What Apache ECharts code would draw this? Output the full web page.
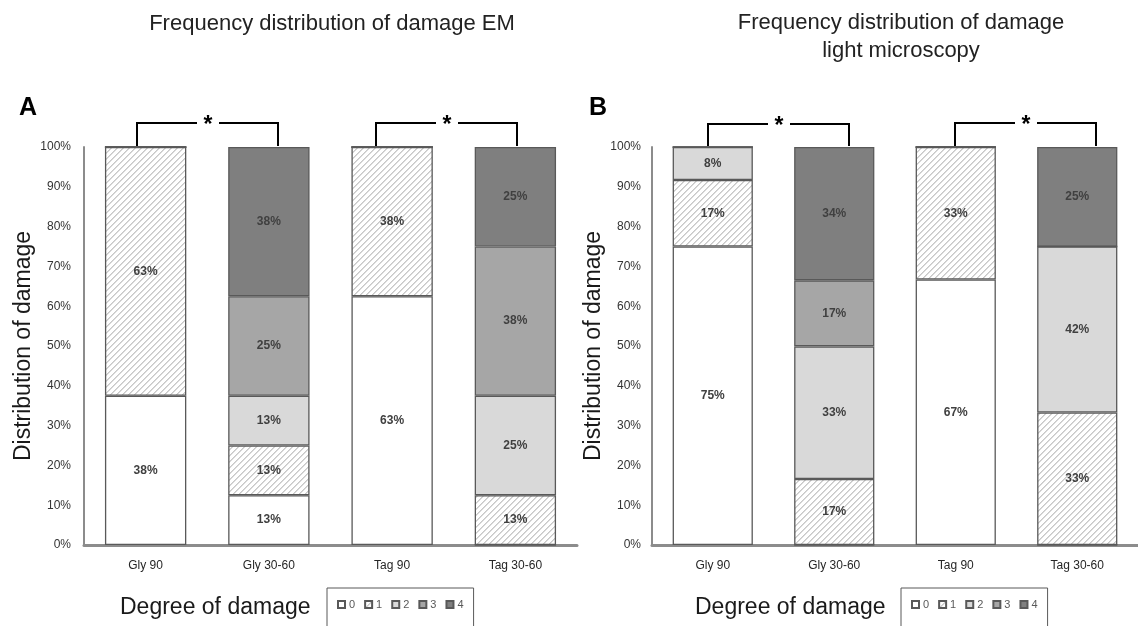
<!DOCTYPE html>
<html>
<head>
<meta charset="utf-8">
<script src="https://cdn.jsdelivr.net/npm/echarts@6/dist/echarts.min.js"></script>
<style>html,body{margin:0;padding:0;background:#fff}#c{width:1138px;height:626px}</style>
</head>
<body>
<div id="c"></div>
<script>
const categories = ['Gly 90', 'Gly 30-60', 'Tag 90', 'Tag 30-60'];
const degrees = ['0', '1', '2', '3', '4'];
const yTicks = [0, 10, 20, 30, 40, 50, 60, 70, 80, 90, 100];
// Panel A: EM (percent)
const emD0 = [37.5, 12.5, 62.5, 0];
const emD1 = [62.5, 12.5, 37.5, 12.5];
const emD2 = [0, 12.5, 0, 25];
const emD3 = [0, 25, 0, 37.5];
const emD4 = [0, 37.5, 0, 25];
// Panel B: light microscopy (percent)
const lmD0 = [75, 0, 66.7, 0];
const lmD1 = [16.7, 16.6, 33.3, 33.3];
const lmD2 = [8.3, 33.3, 0, 41.7];
const lmD3 = [0, 16.6, 0, 0];
const lmD4 = [0, 33.5, 0, 25];

function hatch() {
  const s = 6, c = document.createElement('canvas');
  c.width = s; c.height = s;
  const ctx = c.getContext('2d');
  const img = ctx.createImageData(s, s);
  for (let y = 0; y < s; y++) for (let x = 0; x < s; x++) {
    const k = (x + y) % s;
    const v = k === 0 ? 200 : (k === 1 ? 218 : 255);
    const i = (y * s + x) * 4;
    img.data[i] = v; img.data[i + 1] = v; img.data[i + 2] = v; img.data[i + 3] = 255;
  }
  ctx.putImageData(img, 0, 0);
  return c;
}
const colors = ['#ffffff', { image: hatch(), repeat: 'repeat' }, '#d9d9d9', '#a6a6a6', '#7f7f7f'];
const FONT = '"Liberation Sans", Arial, sans-serif';

function mkSeries(sets, gi) {
  return sets.map((d, i) => ({
    name: degrees[i], type: 'bar', stack: 's' + gi,
    xAxisIndex: gi, yAxisIndex: gi, data: d, barWidth: '66%',
    itemStyle: { color: colors[i], borderColor: '#595959', borderWidth: 1.3 },
    label: {
      show: true, position: 'inside', fontFamily: FONT, fontWeight: 'bold', fontSize: 12, color: '#404040',
      formatter: p => p.value > 0 ? Math.round(p.value) + '%' : ''
    },
    emphasis: { disabled: true }
  }));
}
function xAx(gi) {
  return { type: 'category', gridIndex: gi, data: categories,
    axisTick: { show: false }, axisLine: { lineStyle: { color: '#8c8c8c', width: 3 } },
    axisLabel: { fontFamily: FONT, fontSize: 12, color: '#262626', margin: 15 } };
}
function yAx(gi, gap, margin) {
  return { type: 'value', gridIndex: gi, min: yTicks[0], max: yTicks[yTicks.length - 1], interval: 10,
    name: 'Distribution of damage', nameLocation: 'middle', nameGap: gap,
    nameTextStyle: { fontFamily: FONT, fontSize: 23, color: '#1a1a1a' },
    axisLine: { show: true, lineStyle: { color: '#8c8c8c', width: 2 } },
    axisTick: { show: false }, splitLine: { show: false },
    axisLabel: { fontFamily: FONT, fontSize: 12, color: '#333', margin: margin, formatter: '{value}%' } };
}
function legend(left) {
  return { left: left, top: 588, orient: 'horizontal', data: degrees.map(n => ({ name: n, icon: 'rect' })),
    borderColor: '#595959', borderWidth: 1, padding: [11, 10, 30, 10],
    itemWidth: 7, itemHeight: 7, itemGap: 9, selectedMode: false,
    textStyle: { fontFamily: FONT, fontSize: 11, color: '#595959', padding: [0, 0, 0, -1] } };
}
function bracket(x1, x2, xs, y) {
  const yb = 146, g = 11;
  return [
    { type: 'polyline', shape: { points: [[x1, yb], [x1, y], [xs - g, y]] }, style: { stroke: '#000', lineWidth: 2, fill: null } },
    { type: 'polyline', shape: { points: [[xs + g, y], [x2, y], [x2, yb]] }, style: { stroke: '#000', lineWidth: 2, fill: null } },
    { type: 'text', x: xs, y: y + 3, style: { text: '*', fontFamily: FONT, fontWeight: 'bold', fontSize: 23, fill: '#000', textAlign: 'center', textVerticalAlign: 'middle' } }
  ];
}

const chart = echarts.init(document.getElementById('c'));
chart.setOption({
  animation: false,
  backgroundColor: '#fff',
  title: [
    { text: 'Frequency distribution of damage EM', left: 327, top: 8, textAlign: 'center',
      textStyle: { fontFamily: FONT, fontSize: 22, fontWeight: 'normal', color: '#222' } },
    { text: 'Frequency distribution of damage\nlight microscopy', left: 896, top: 4, textAlign: 'center',
      textStyle: { fontFamily: FONT, fontSize: 22, fontWeight: 'normal', color: '#222', lineHeight: 28 } }
  ],
  grid: [
    { left: 84, top: 147, width: 493, bottom: 81, containLabel: false },
    { left: 652, top: 147, width: 492, bottom: 81, containLabel: false }
  ],
  xAxis: [xAx(0), xAx(1)],
  yAxis: [yAx(0, 49, 13), yAx(1, 47, 11)],
  legend: [legend(327), legend(901)],
  series: mkSeries([emD0, emD1, emD2, emD3, emD4], 0).concat(mkSeries([lmD0, lmD1, lmD2, lmD3, lmD4], 1)),
  graphic: [
    { type: 'text', x: 19, y: 108, style: { text: 'A', fontFamily: FONT, fontWeight: 'bold', fontSize: 25, fill: '#000', textVerticalAlign: 'middle' } },
    { type: 'text', x: 589, y: 108, style: { text: 'B', fontFamily: FONT, fontWeight: 'bold', fontSize: 25, fill: '#000', textVerticalAlign: 'middle' } },
    { type: 'text', x: 120, y: 608, style: { text: 'Degree of damage', fontFamily: FONT, fontSize: 23, fill: '#1a1a1a', textVerticalAlign: 'middle' } },
    { type: 'text', x: 695, y: 608, style: { text: 'Degree of damage', fontFamily: FONT, fontSize: 23, fill: '#1a1a1a', textVerticalAlign: 'middle' } }
  ].concat(bracket(137, 278, 208, 123), bracket(376, 517, 447, 123), bracket(708, 849, 779, 124), bracket(955, 1096, 1026, 123))
});
</script>
</body>
</html>
